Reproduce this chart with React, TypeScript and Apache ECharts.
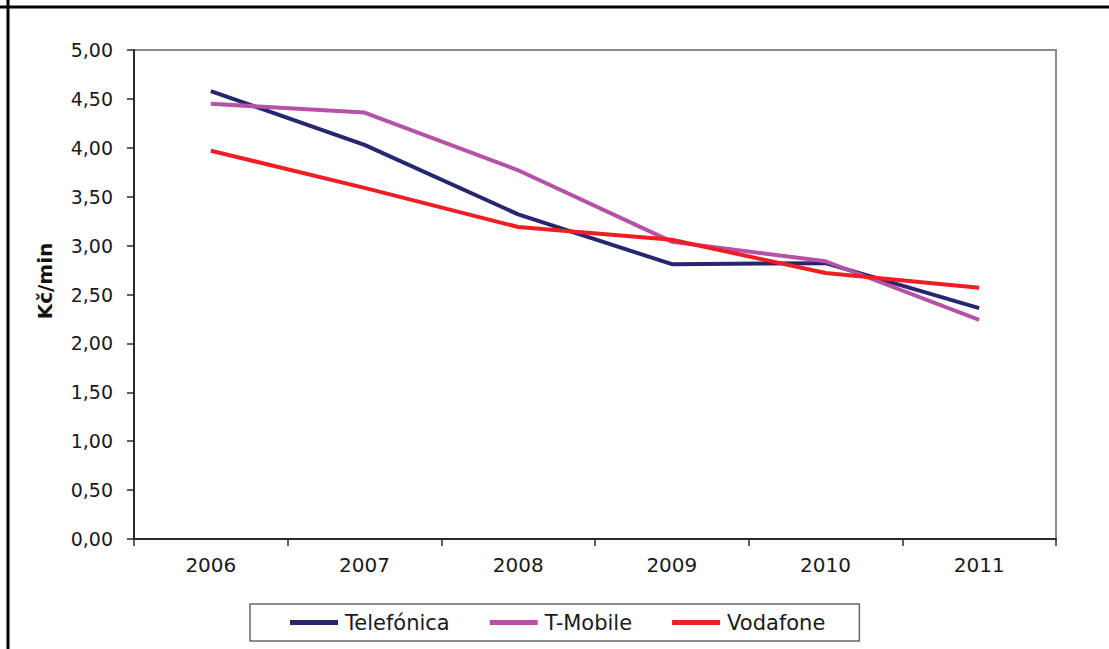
import React, { useEffect, useRef } from "react";
import * as echarts from "echarts";

const years = ["2006", "2007", "2008", "2009", "2010", "2011"];
const telefonica = [4.58, 4.03, 3.32, 2.81, 2.82, 2.36];
const tmobile = [4.45, 4.36, 3.77, 3.04, 2.84, 2.24];
const vodafone = [3.97, 3.59, 3.19, 3.06, 2.72, 2.57];
const yTicks = { min: 0, max: 5, interval: 0.5 };

export default function App() {
  const ref = useRef<HTMLDivElement>(null);
  useEffect(() => {
    if (!ref.current) return;
    const chart = echarts.init(ref.current, undefined, { renderer: "svg" });
    const font = "DejaVu Sans";
    chart.setOption({
      animation: false,
      backgroundColor: "#ffffff",
      textStyle: { fontFamily: font },
      grid: {
        left: 134,
        top: 50,
        right: 53,
        bottom: 110,
        show: true,
        borderColor: "#8a8a8a",
        borderWidth: 2,
        backgroundColor: "transparent",
      },
      xAxis: {
        type: "category",
        data: years,
        boundaryGap: true,
        axisLine: { lineStyle: { color: "#2a2a2a", width: 2 } },
        axisTick: { show: true, interval: 0, length: 7, lineStyle: { color: "#2a2a2a", width: 1.5 } },
        axisLabel: { color: "#1a1a1a", fontSize: 20, fontFamily: font, margin: 16 },
        splitLine: { show: false },
      },
      yAxis: {
        type: "value",
        min: yTicks.min,
        max: yTicks.max,
        interval: yTicks.interval,
        axisLine: { show: true, lineStyle: { color: "#2a2a2a", width: 2 } },
        axisTick: { show: true, length: 7, lineStyle: { color: "#2a2a2a", width: 1.5 } },
        axisLabel: {
          color: "#1a1a1a",
          fontSize: 19,
          fontFamily: font,
          margin: 21,
          formatter: (v: number) => v.toFixed(2).replace(".", ","),
        },
        splitLine: { show: false },
      },
      legend: {
        left: 250,
        top: 604,
        orient: "horizontal",
        padding: [8, 34, 8, 40],
        itemGap: 40,
        itemWidth: 48,
        itemHeight: 5,
        icon: "rect",
        borderColor: "#666666",
        borderWidth: 1.5,
        textStyle: { fontSize: 21, fontFamily: font, color: "#1a1a1a", padding: [0, 0, 0, 2] },
        data: ["Telefónica", "T-Mobile", "Vodafone"],
      },
      graphic: [
        { type: "line", shape: { x1: 8, y1: 0, x2: 8, y2: 649 }, style: { stroke: "#000", lineWidth: 3 } },
        { type: "line", shape: { x1: 0, y1: 7, x2: 1109, y2: 7 }, style: { stroke: "#000", lineWidth: 3 } },
        {
          type: "text",
          x: 45,
          y: 281,
          rotation: Math.PI / 2,
          style: {
            text: "Kč/min",
            fontFamily: font,
            fontSize: 20,
            fontWeight: "bold",
            fill: "#111",
            align: "center",
            verticalAlign: "middle",
          },
        },
      ],
      series: [
        {
          name: "Telefónica",
          type: "line",
          data: telefonica,
          symbol: "none",
          lineStyle: { color: "#27276f", width: 4 },
          itemStyle: { color: "#27276f" },
        },
        {
          name: "T-Mobile",
          type: "line",
          data: tmobile,
          symbol: "none",
          lineStyle: { color: "#b552a6", width: 4 },
          itemStyle: { color: "#b552a6" },
        },
        {
          name: "Vodafone",
          type: "line",
          data: vodafone,
          symbol: "none",
          lineStyle: { color: "#ee1f24", width: 4 },
          itemStyle: { color: "#ee1f24" },
        },
      ],
    });
    return () => chart.dispose();
  }, []);
  return (
    <div
      ref={ref}
      style={{ position: "absolute", left: 0, top: 0, width: 1109, height: 649 }}
    />
  );
}
